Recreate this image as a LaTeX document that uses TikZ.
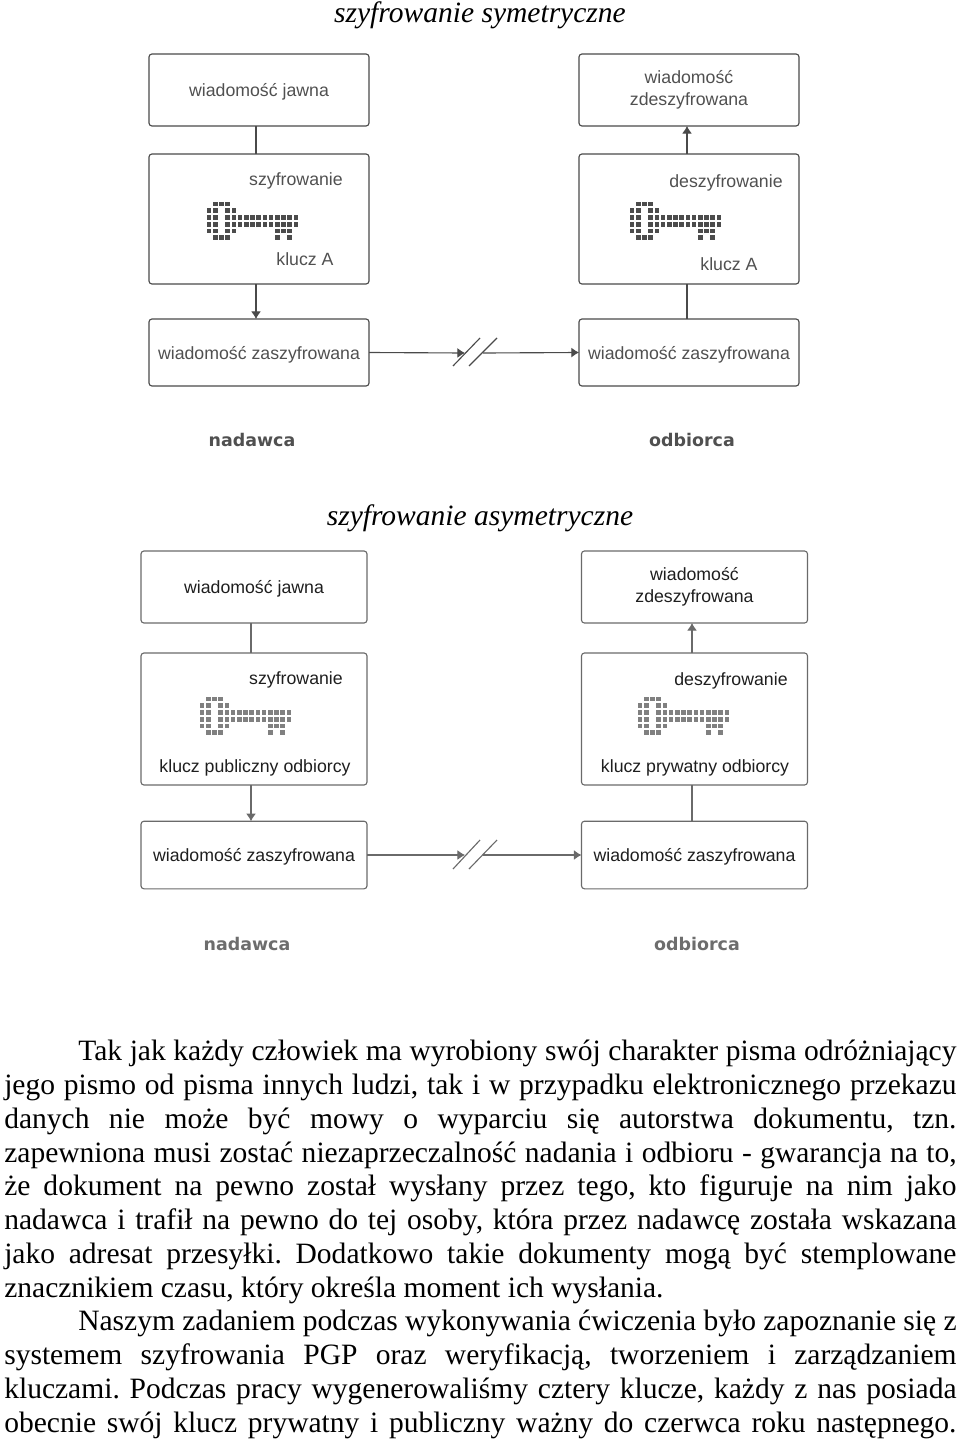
\documentclass[tikz,border=0pt]{standalone}
\usepackage{fontspec}
\setmainfont{Liberation Serif}
\newfontfamily\boxfont{Liberation Sans}
\newfontfamily\partyfont{DejaVu Sans}
\usetikzlibrary{arrows.meta}
\definecolor{InkTop}{HTML}{505050}
\definecolor{InkLow}{HTML}{1E1E1E}
\definecolor{LineTop}{HTML}{4A4A4A}
\definecolor{LineLow}{HTML}{6A6A6A}
\definecolor{KeyTop}{HTML}{4C4C4C}
\definecolor{KeyLow}{HTML}{808080}
\tikzset{
  msgbox/.style={draw,line width=0.8pt,rounded corners=0.075cm,inner sep=0pt,outer sep=0pt,align=center,
    font=\boxfont\fontsize{12.6pt}{15.6pt}\selectfont},
  oneline/.style={text depth=0pt},
  lbl/.style={inner sep=0pt,text depth=0pt,font=\boxfont\fontsize{12.6pt}{15.6pt}\selectfont},
  party/.style={inner sep=0pt,font=\partyfont\bfseries\fontsize{12.4pt}{15pt}\selectfont},
  heading/.style={inner sep=0pt,font=\itshape\fontsize{21pt}{24pt}\selectfont},
  wire/.style={line width=0.8pt},
  tipped/.style={wire,-{Latex[length=0.19cm,width=0.25cm]}},
}
% key drawn from small squares: origin, colour
\newcommand{\pixelkey}[3]{%
  \foreach \r/\cols in {0/{1,2,3},1/{0,1,3,4},2/{0,1,3,4,...,14},3/{0,1,3,4,...,14},4/{0,1,3,4,11,12,13},5/{1,2,3,11,13}}
    \foreach \c in \cols
      \fill[#3] ({#1+6.2*\c-2.3},{#2+6.75*\r-2.3}) rectangle ++(4.6,4.6);
}
\begin{document}
\begin{tikzpicture}[x=0.025cm,y=-0.025cm]
\useasboundingbox (0,0) rectangle (960,1440);
\node[heading] (titlesym) at (480,15) {szyfrowanie symetryczne};
\node[heading] (titleasym) at (480,518) {szyfrowanie asymetryczne};
% symetryczne
\begin{scope}[every node/.append style={text=InkTop}]
\node[msgbox,oneline,draw=LineTop,minimum width=5.5cm,minimum height=1.8cm] (topplain) at (259,90) {wiadomość jawna};
\node[msgbox,draw=LineTop,minimum width=5.5cm,minimum height=3.25cm] (topcrypt) at (259,219) {};
\node[msgbox,oneline,draw=LineTop,minimum width=5.5cm,minimum height=1.675cm] (topcipher) at (259,352.5) {wiadomość zaszyfrowana};
\node[msgbox,draw=LineTop,minimum width=5.5cm,minimum height=1.8cm] (topclear) at (689,90) {wiadomość\\zdeszyfrowana};
\node[msgbox,draw=LineTop,minimum width=5.5cm,minimum height=3.25cm] (topdecrypt) at (689,219) {};
\node[msgbox,oneline,draw=LineTop,minimum width=5.5cm,minimum height=1.675cm] (topinbox) at (689,352.5) {wiadomość zaszyfrowana};
\node[lbl] (topenc) at (296,179) {szyfrowanie};
\node[lbl] (topkeya) at (305,259) {klucz A};
\node[lbl] (topdec) at (726,181) {deszyfrowanie};
\node[lbl] (topkeyb) at (729,264) {klucz A};
\node[party] (topsender) at (252,440) {nadawca};
\node[party] (topreceiver) at (692,440) {odbiorca};
\end{scope}
\pixelkey{209}{204}{KeyTop}
\pixelkey{632}{204}{KeyTop}
\coordinate (topcutl) at (465,353);
\coordinate (topcutr) at (483,353);
\draw[wire,LineTop] ([xshift=-0.075cm]topplain.south) -- ([xshift=-0.075cm]topcrypt.north);
\draw[tipped,LineTop] ([xshift=-0.075cm]topcrypt.south) -- ([xshift=-0.075cm]topcipher.north);
\draw[wire,LineTop] ([xshift=-0.05cm]topinbox.north) -- ([xshift=-0.05cm]topdecrypt.south);
\draw[tipped,LineTop] ([xshift=-0.05cm]topdecrypt.north) -- ([xshift=-0.05cm]topclear.south);
\draw[tipped,LineTop] (topcipher.east) -- (topcutl);
\draw[tipped,LineTop] (topcutr) -- (topinbox.west);
\draw[wire,LineTop] (453,366) -- (480,338);
\draw[wire,LineTop] (469,366) -- (497,338);
% asymetryczne
\begin{scope}[every node/.append style={text=InkLow}]
\node[msgbox,oneline,draw=LineLow,minimum width=5.65cm,minimum height=1.8cm] (lowplain) at (254,587) {wiadomość jawna};
\node[msgbox,draw=LineLow,minimum width=5.65cm,minimum height=3.3cm] (lowcrypt) at (254,719) {};
\node[msgbox,oneline,draw=LineLow,minimum width=5.65cm,minimum height=1.69cm] (lowcipher) at (254,855) {wiadomość zaszyfrowana};
\node[msgbox,draw=LineLow,minimum width=5.65cm,minimum height=1.8cm] (lowclear) at (694.5,587) {wiadomość\\zdeszyfrowana};
\node[msgbox,draw=LineLow,minimum width=5.65cm,minimum height=3.3cm] (lowdecrypt) at (694.5,719) {};
\node[msgbox,oneline,draw=LineLow,minimum width=5.65cm,minimum height=1.69cm] (lowinbox) at (694.5,855) {wiadomość zaszyfrowana};
\node[lbl] (lowenc) at (296,678) {szyfrowanie};
\node[lbl] (lowpub) at (255,766) {klucz publiczny odbiorcy};
\node[lbl] (lowdec) at (731,679) {deszyfrowanie};
\node[lbl] (lowpriv) at (695,766) {klucz prywatny odbiorcy};
\node[party,text=KeyLow!85!black] (lowsender) at (247,944) {nadawca};
\node[party,text=KeyLow!85!black] (lowreceiver) at (697,944) {odbiorca};
\end{scope}
\pixelkey{202}{699}{KeyLow}
\pixelkey{640}{699}{KeyLow}
\coordinate (lowcutl) at (465,855);
\coordinate (lowcutr) at (483,855);
\draw[wire,LineLow] ([xshift=-0.075cm]lowplain.south) -- ([xshift=-0.075cm]lowcrypt.north);
\draw[tipped,LineLow] ([xshift=-0.075cm]lowcrypt.south) -- ([xshift=-0.075cm]lowcipher.north);
\draw[wire,LineLow] ([xshift=-0.0625cm]lowinbox.north) -- ([xshift=-0.0625cm]lowdecrypt.south);
\draw[tipped,LineLow] ([xshift=-0.0625cm]lowdecrypt.north) -- ([xshift=-0.0625cm]lowclear.south);
\draw[tipped,LineLow] (lowcipher.east) -- (lowcutl);
\draw[tipped,LineLow] (lowcutr) -- (lowinbox.west);
\draw[wire,LineLow] (453,869) -- (480,840);
\draw[wire,LineLow] (469,869) -- (497,840);
% tekst
\node[anchor=north west,inner sep=0pt,text width=23.8cm,align=justify,
  font=\frenchspacing\fontsize{21pt}{24pt}\selectfont] (bodytext) at (4,1040) {%
\hspace*{1.85cm}Tak jak każdy człowiek ma wyrobiony swój charakter pisma odróżniający\linebreak
jego pismo od pisma innych ludzi, tak i w przypadku elektronicznego przekazu\linebreak
danych nie może być mowy o wyparciu się autorstwa dokumentu, tzn.\linebreak
zapewniona musi zostać niezaprzeczalność nadania i odbioru - gwarancja na to,\linebreak
że dokument na pewno został wysłany przez tego, kto figuruje na nim jako\linebreak
nadawca i trafił na pewno do tej osoby, która przez nadawcę została wskazana\linebreak
jako adresat przesyłki. Dodatkowo takie dokumenty mogą być stemplowane\linebreak
znacznikiem czasu, który określa moment ich wysłania.\par
\hspace*{1.85cm}Naszym zadaniem podczas wykonywania ćwiczenia było zapoznanie się z\linebreak
systemem szyfrowania PGP oraz weryfikacją, tworzeniem i zarządzaniem\linebreak
kluczami. Podczas pracy wygenerowaliśmy cztery klucze, każdy z nas posiada\linebreak
obecnie swój klucz prywatny i publiczny ważny do czerwca roku następnego.\parfillskip=0pt\par};
\end{tikzpicture}
\end{document}
